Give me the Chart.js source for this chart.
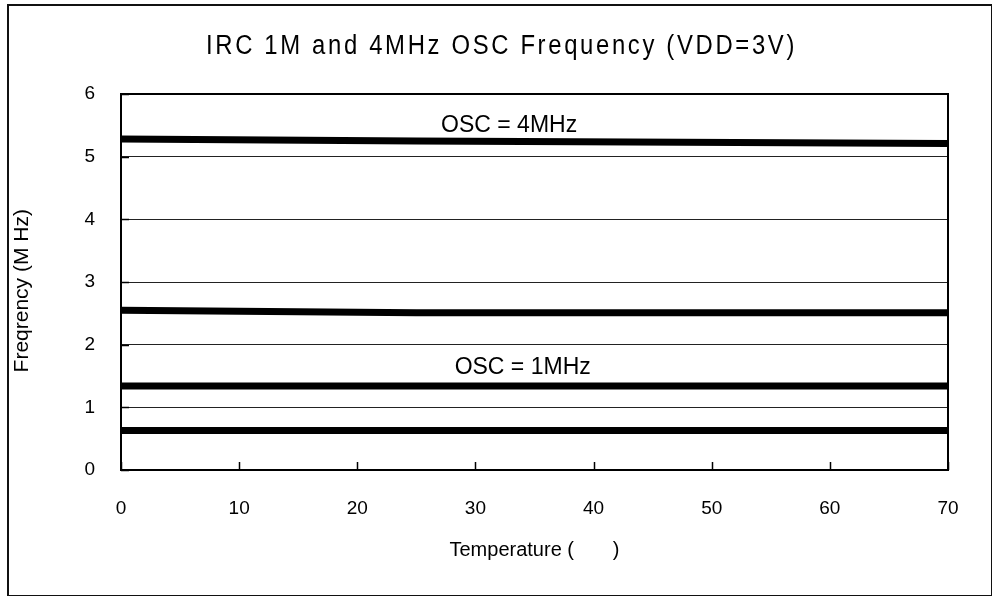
<!DOCTYPE html>
<html>
<head>
<meta charset="utf-8">
<script src="https://cdn.jsdelivr.net/npm/chart.js@4.4.1/dist/chart.umd.min.js"></script>
<style>
  html, body { margin: 0; padding: 0; background: #fff; }
  #wrap { position: relative; width: 992px; height: 596px; }
  #frame { position: absolute; left: 7px; top: 4px; width: 982px; height: 589px; border: 2px solid #111; box-sizing: content-box; pointer-events: none; }
  canvas { position: absolute; left: 0; top: 0; }
</style>
</head>
<body>
<div id="wrap">
  <canvas id="chart" width="992" height="596"></canvas>
  <div id="frame"></div>
</div>
<script>
// temperature points (deg C)
const temps = [0, 25, 70];
// frequency curves (MHz)
const osc4a = [5.28, 5.25, 5.21];
const osc4b = [2.55, 2.51, 2.51];
const osc1a = [1.34, 1.34, 1.34];
const osc1b = [0.63, 0.63, 0.63];
const xTicks = [0, 10, 20, 30, 40, 50, 60, 70];
const yTicks = [0, 1, 2, 3, 4, 5, 6];
// curve labels: text, x (deg C), y (MHz)
const noteText = ['OSC = 4MHz', 'OSC = 1MHz'];
const noteX = [32.85, 34.0];
const noteY = [5.50, 1.63];

const titleText = 'IRC 1M and 4MHz OSC Frequency (VDD=3V)';
const FONT = '"Liberation Sans", Arial, sans-serif';

function series(vals) {
  return {
    data: temps.map((t, i) => ({ x: t, y: vals[i] })),
    borderColor: '#000',
    backgroundColor: '#000',
    borderWidth: 7,
    pointRadius: 0,
    tension: 0,
    borderCapStyle: 'butt'
  };
}

const decor = {
  id: 'decor',
  afterDatasetsDraw(chart) {
    const ctx = chart.ctx;
    const a = chart.chartArea;
    const xs = chart.scales.x, ys = chart.scales.y;
    ctx.save();
    ctx.strokeStyle = '#000';
    ctx.lineWidth = 2;
    ctx.strokeRect(a.left, a.top, a.right - a.left, a.bottom - a.top);
    // inward tick marks
    ctx.lineWidth = 1.5;
    ctx.beginPath();
    xTicks.forEach(v => {
      const px = Math.round(xs.getPixelForValue(v)) + 0.5;
      ctx.moveTo(px, a.bottom);
      ctx.lineTo(px, a.bottom - 8);
    });
    yTicks.forEach(v => {
      const py = Math.round(ys.getPixelForValue(v)) + 0.5;
      ctx.moveTo(a.left, py);
      ctx.lineTo(a.left + 8, py);
    });
    ctx.stroke();
    // curve labels
    ctx.fillStyle = '#000';
    ctx.font = '23px ' + FONT;
    ctx.textAlign = 'center';
    ctx.textBaseline = 'middle';
    noteText.forEach((t, i) => {
      ctx.fillText(t, xs.getPixelForValue(noteX[i]), ys.getPixelForValue(noteY[i]));
    });
    // title (narrow, spaced)
    ctx.font = '27px ' + FONT;
    ctx.letterSpacing = '3px';
    ctx.textAlign = 'left';
    ctx.textBaseline = 'alphabetic';
    const w = ctx.measureText(titleText).width;
    const target = 591;
    const sx = target / w;
    ctx.translate(206, 54);
    ctx.scale(sx, 1);
    ctx.fillText(titleText, 0, 0);
    ctx.restore();
  }
};

new Chart(document.getElementById('chart'), {
  type: 'line',
  data: {
    datasets: [series(osc4a), series(osc4b), series(osc1a), series(osc1b)]
  },
  options: {
    responsive: false,
    animation: false,
    devicePixelRatio: 1,
    layout: { padding: { top: 94, right: 44, bottom: 0, left: 0 } },
    plugins: {
      legend: { display: false },
      tooltip: { enabled: false },
      title: { display: false }
    },
    scales: {
      x: {
        type: 'linear',
        min: 0,
        max: 70,
        afterFit: s => { s.height = 126; },
        afterBuildTicks: s => { s.ticks = xTicks.map(v => ({ value: v })); },
        ticks: { padding: 27, color: '#000', font: { family: FONT, size: 19 } },
        grid: { drawOnChartArea: false, drawTicks: false },
        border: { display: true, color: '#000', width: 2 },
        title: {
          display: true,
          text: 'Temperature (       )',
          color: '#000',
          font: { family: FONT, size: 20 },
          padding: { top: 0, bottom: 34 }
        }
      },
      y: {
        min: 0,
        max: 6,
        afterFit: s => { s.width = 121; },
        afterBuildTicks: s => { s.ticks = yTicks.map(v => ({ value: v })); },
        ticks: { padding: 26, color: '#000', font: { family: FONT, size: 19 } },
        grid: { color: '#222', lineWidth: 1, drawTicks: false },
        border: { display: true, color: '#000', width: 2 },
        title: {
          display: true,
          text: 'Freqrency (M Hz)   ',
          color: '#000',
          font: { family: FONT, size: 21 },
          padding: { top: 10, bottom: 0 }
        }
      }
    }
  },
  plugins: [decor]
});
</script>
</body>
</html>
